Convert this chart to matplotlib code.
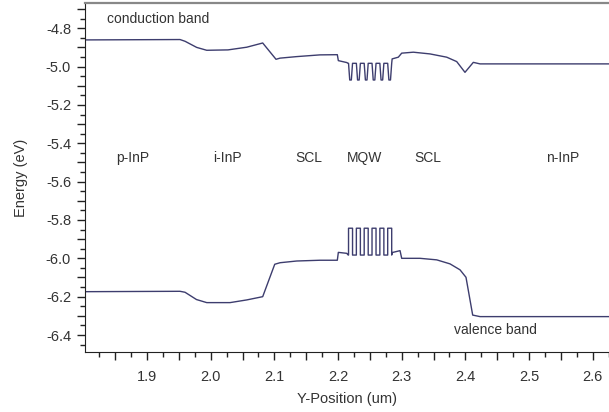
import numpy as np
import matplotlib
matplotlib.use('Agg')
import matplotlib.pyplot as plt
from matplotlib.ticker import MultipleLocator, FuncFormatter

plt.rcParams['font.family'] = ['Liberation Sans', 'DejaVu Sans']

# conduction band profile outside the MQW (um, eV)
cb_left_x = [1.80, 1.9518, 1.9597, 1.978, 1.9938, 2.0272, 2.0566, 2.0817, 2.1026, 2.1089,
             2.1351, 2.1717, 2.1989, 2.2005, 2.2137, 2.2160]
cb_left_y = [-4.861, -4.859, -4.868, -4.900, -4.915, -4.913, -4.899, -4.877, -4.962, -4.956,
             -4.948, -4.939, -4.938, -4.969, -4.979, -4.983]
cb_right_x = [2.2850, 2.2947, 2.3000, 2.3183, 2.3445, 2.3707, 2.3864, 2.3994, 2.4125, 2.4230, 2.63]
cb_right_y = [-4.960, -4.951, -4.930, -4.925, -4.934, -4.951, -4.974, -5.030, -4.978, -4.986, -4.986]

# valence band profile outside the MQW
vb_left_x = [1.80, 1.9518, 1.9597, 1.9777, 1.9938, 2.0304, 2.0566, 2.0817, 2.1006, 2.1089,
             2.1351, 2.1717, 2.1989, 2.2005, 2.2137, 2.2160]
vb_left_y = [-6.174, -6.172, -6.177, -6.215, -6.231, -6.231, -6.217, -6.200, -6.031, -6.023,
             -6.014, -6.010, -6.010, -5.969, -5.974, -5.983]
vb_right_x = [2.2850, 2.2974, 2.3000, 2.3288, 2.3550, 2.3759, 2.3916, 2.4010, 2.4115, 2.4230, 2.63]
vb_right_y = [-5.970, -5.960, -6.000, -6.000, -6.008, -6.029, -6.060, -6.099, -6.296, -6.304, -6.304]

# quantum wells
well_left = [2.2165, 2.2288, 2.2411, 2.2534, 2.2657, 2.2780]
well_right = [2.2228, 2.2351, 2.2474, 2.2597, 2.2720, 2.2843]
cb_barrier, cb_well = -4.983, -5.070
vb_barrier, vb_well = -5.983, -5.843

region_names = ['p-InP', 'i-InP', 'SCL', 'MQW', 'SCL', 'n-InP']
region_x = [1.878, 2.027, 2.154, 2.241, 2.3406, 2.5534]


def band(lx, ly, rx, ry, barrier, well, rounded):
    xs = list(lx)
    ys = list(ly)
    for a, b in zip(well_left, well_right):
        if rounded:
            d = (b - a) * 0.3
            xs += [a, a + d, b - d, b]
            ys += [barrier, well, well, barrier]
        else:
            xs += [a, a, b, b]
            ys += [barrier, well, well, barrier]
    xs += list(rx)
    ys += list(ry)
    return xs, ys


cbx, cby = band(cb_left_x, cb_left_y, cb_right_x, cb_right_y, cb_barrier, cb_well, True)
vbx, vby = band(vb_left_x, vb_left_y, vb_right_x, vb_right_y, vb_barrier, vb_well, False)

fig = plt.figure(figsize=(6.09, 4.12), dpi=100)
ax = fig.add_axes([85/609, 1 - 351.7/412, 1 - 85/609, (351.7 - 3.3)/412])

line_col = '#3d3d6e'
ax.plot(cbx, cby, color=line_col, lw=1.0)
ax.plot(vbx, vby, color=line_col, lw=1.0)

ax.set_xlim(1.8026, 2.6256)
ax.set_ylim(-6.487, -4.67)

txt = '#333333'
ax.text(1.8367, -4.7515, 'conduction band', fontsize=10, color=txt, va='center', ha='left')
ax.text(2.4478, -6.374, 'valence band', fontsize=10, color=txt, va='center', ha='center')
for name, x in zip(region_names, region_x):
    ax.text(x, -5.478, name, fontsize=10, color=txt, va='center', ha='center')

ax.xaxis.set_major_locator(MultipleLocator(0.05))
ax.xaxis.set_minor_locator(MultipleLocator(0.025))
ax.xaxis.set_major_formatter(FuncFormatter(
    lambda v, p: ('%.1f' % v) if abs(v * 10 - round(v * 10)) < 1e-6 else ''))
ax.yaxis.set_major_locator(MultipleLocator(0.1))
ax.yaxis.set_minor_locator(MultipleLocator(0.05))
ax.yaxis.set_major_formatter(FuncFormatter(
    lambda v, p: ('%.1f' % v) if abs(v * 5 - round(v * 5)) < 1e-6 else ''))

ax.tick_params(which='major', direction='out', length=6, width=1, colors='#222222',
               labelsize=10.5, labelcolor=txt, pad=4)
ax.tick_params(which='minor', direction='out', length=3.5, width=1, colors='#222222')
ax.tick_params(axis='x', pad=7)

ax.spines['right'].set_visible(False)
ax.spines['top'].set_color('#888888')
ax.spines['top'].set_linewidth(1.6)
ax.spines['left'].set_color('#222222')
ax.spines['bottom'].set_color('#222222')

ax.set_xlabel('Y-Position (um)', fontsize=10.5, color=txt, labelpad=6)
ax.set_ylabel('Energy (eV)', fontsize=10.5, color=txt, labelpad=13)

fig.savefig('out.png', dpi=100)
